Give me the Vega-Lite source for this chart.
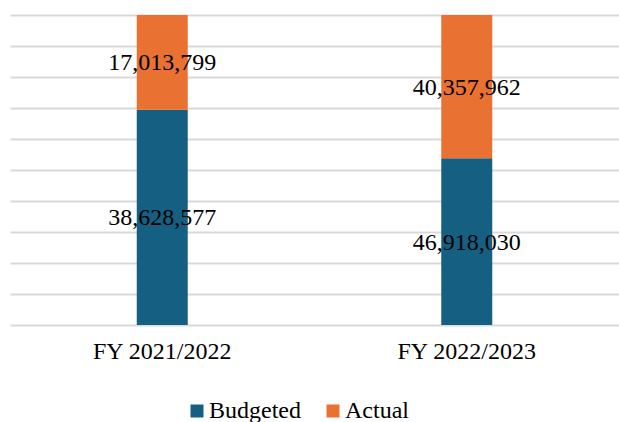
{
  "$schema": "https://vega.github.io/schema/vega-lite/v6.json",
  "width": 609,
  "height": 310,
  "autosize": {"type": "none"},
  "padding": {"left": 10, "top": 15, "right": 0, "bottom": 97},
  "background": "white",
  "data": {
    "values": [
      {"fy": "FY 2021/2022", "series": "Budgeted", "value": 38628577},
      {"fy": "FY 2021/2022", "series": "Actual", "value": 17013799},
      {"fy": "FY 2022/2023", "series": "Budgeted", "value": 46918030},
      {"fy": "FY 2022/2023", "series": "Actual", "value": 40357962}
    ]
  },
  "encoding": {
    "x": {
      "field": "fy",
      "type": "nominal",
      "scale": {"paddingInner": 0.5, "paddingOuter": 0.25},
      "axis": {
        "title": null,
        "labelAngle": 0,
        "ticks": false,
        "domain": false,
        "labelFont": "Liberation Serif",
        "labelFontSize": 24,
        "labelColor": "black",
        "labelPadding": 14
      }
    },
    "y": {
      "field": "value",
      "type": "quantitative",
      "stack": "normalize",
      "scale": {"domain": [0, 1]},
      "axis": {
        "title": null,
        "labels": false,
        "ticks": false,
        "domain": false,
        "grid": true,
        "values": [0, 0.1, 0.2, 0.3, 0.4, 0.5, 0.6, 0.7, 0.8, 0.9, 1],
        "gridColor": "#d9d9d9",
        "gridWidth": 2
      }
    },
    "order": {"field": "series", "sort": "descending"}
  },
  "layer": [
    {
      "mark": {"type": "bar", "width": 51},
      "encoding": {
        "color": {
          "field": "series",
          "type": "nominal",
          "scale": {"domain": ["Budgeted", "Actual"], "range": ["#156082", "#E97132"]},
          "legend": {
            "title": null,
            "orient": "none",
            "direction": "horizontal",
            "legendX": 175,
            "legendY": 384,
            "symbolType": "square",
            "symbolSize": 169,
            "symbolStrokeWidth": 0,
            "labelFont": "Liberation Serif",
            "labelFontSize": 24,
            "labelColor": "black",
            "columnPadding": 20,
            "labelOffset": 0
          }
        }
      }
    },
    {
      "mark": {"type": "text", "font": "Liberation Serif", "fontSize": 24, "color": "black", "baseline": "middle", "dy": 1},
      "encoding": {
        "y": {
          "field": "value",
          "type": "quantitative",
          "stack": "normalize",
          "bandPosition": 0.5
        },
        "text": {"field": "value", "type": "quantitative", "format": ",d"}
      }
    }
  ],
  "config": {"view": {"stroke": null}}
}
